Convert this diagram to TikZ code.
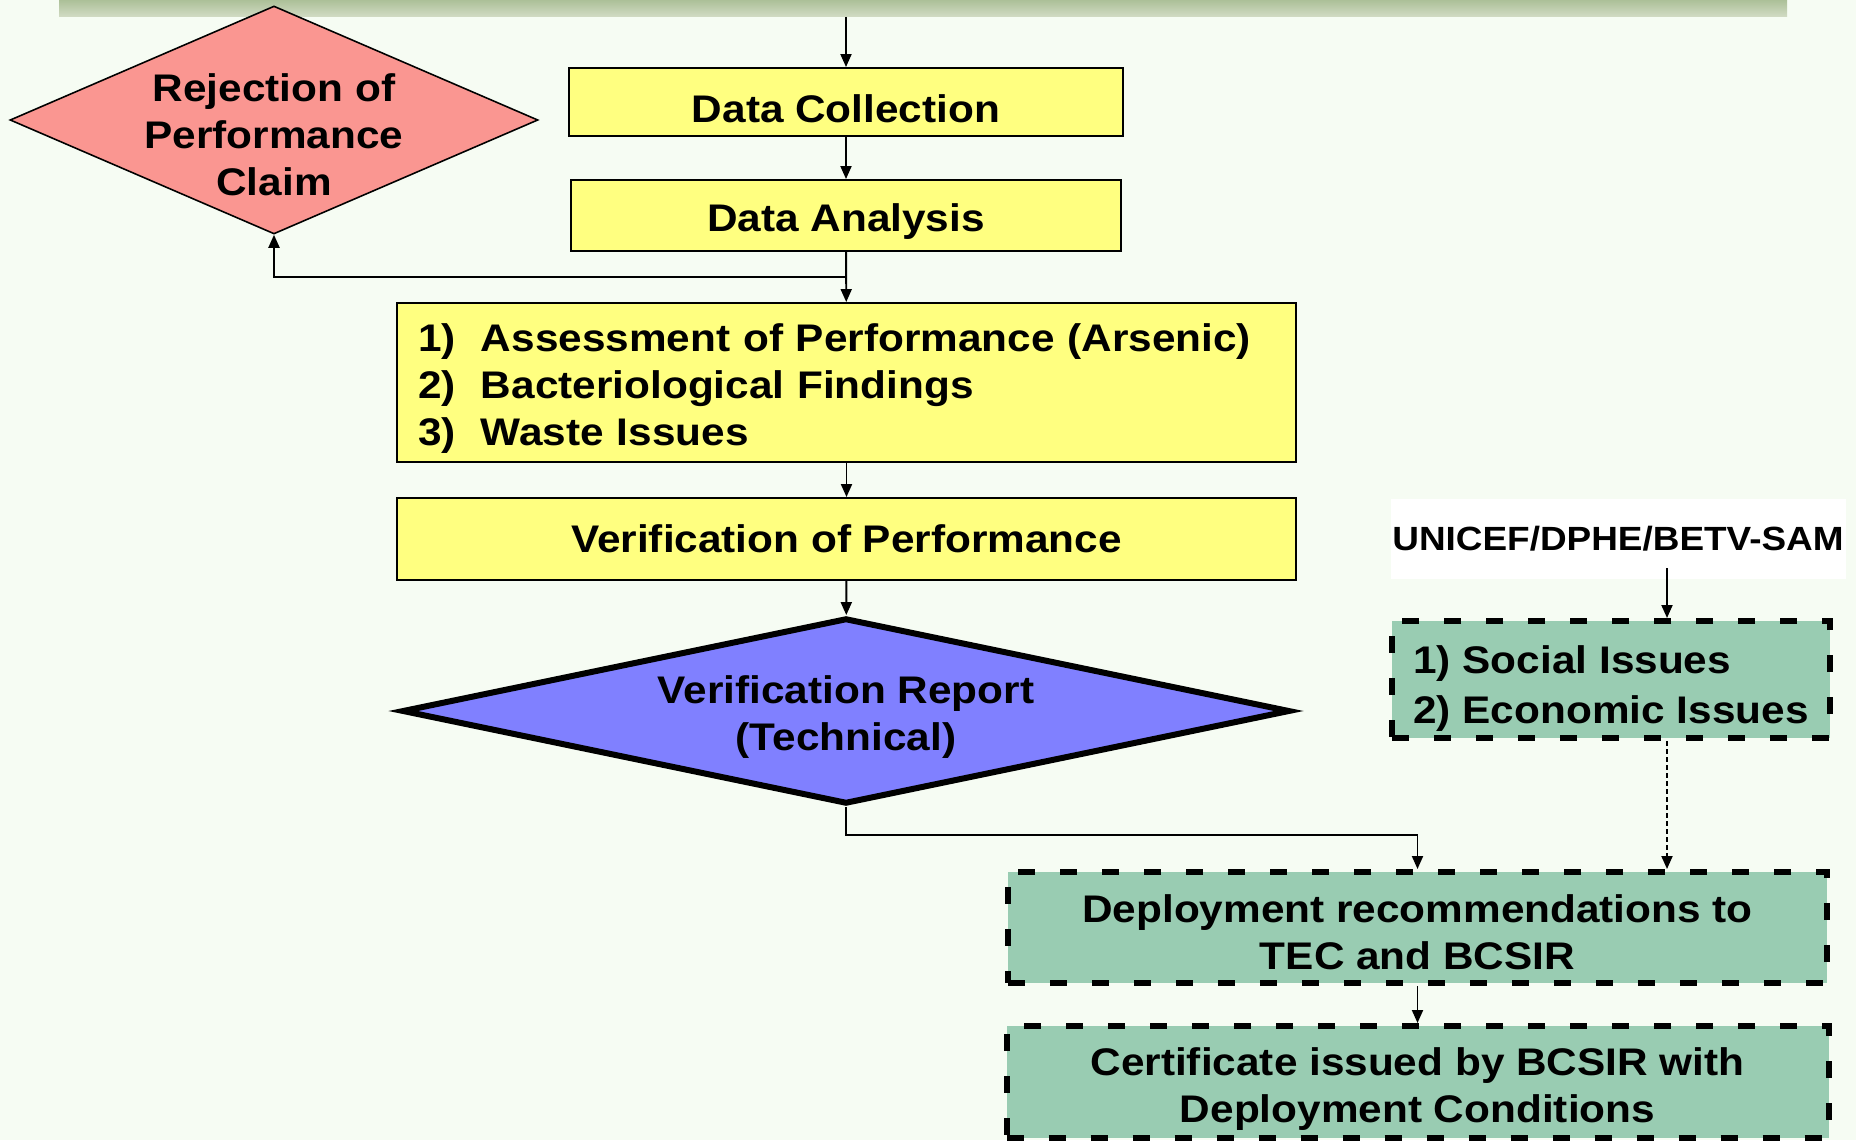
\documentclass[tikz,border=0pt]{standalone}
\usepackage{fontspec}
\setmainfont{Liberation Sans}[FakeStretch=1.1]
\usetikzlibrary{shapes.geometric,arrows.meta}

\definecolor{bgcol}{RGB}{246,252,243}
\definecolor{barhi}{RGB}{172,192,152}
\definecolor{barlo}{RGB}{208,218,194}
\definecolor{yellowbox}{RGB}{255,255,128}
\definecolor{rejectcol}{RGB}{250,150,145}
\definecolor{reportcol}{RGB}{128,128,255}
\definecolor{greenbox}{RGB}{153,204,178}

\begin{document}
\begin{tikzpicture}[>={Triangle[length=0.26cm,width=0.22cm]}, line width=1.1pt,
  txt/.style={font=\fontsize{21.9}{26.6}\selectfont\bfseries},
  yellowstep/.style={txt, draw, fill=yellowbox, rectangle, inner sep=0pt},
  greenstep/.style={txt, draw, fill=greenbox, rectangle, inner sep=0pt,
    line width=0.12cm, dash pattern=on 0.34cm off 0.5cm},
  dotline/.style={dash pattern=on 0.1cm off 0.06cm}]
\fill[bgcol] (0,0) rectangle (37.12,-22.8);
\useasboundingbox (0,0) rectangle (37.12,-22.8);
\node (v0) [top color=barhi, bottom color=barlo, minimum width=34.56cm, minimum height=0.32cm, inner sep=0pt] at (18.46,-0.16) {};
\node (v1) [yellowstep, minimum width=11.08cm, minimum height=1.36cm, text height=0.8cm, text depth=0cm] at (16.92,-2.04) {Data Collection};
\node (v2) [yellowstep, minimum width=11.0cm, minimum height=1.42cm, text height=0.8cm, text depth=0.16cm] at (16.92,-4.31) {Data Analysis};
\node (v3) [txt, diamond, draw, fill=rejectcol, line width=0.9pt, minimum width=10.56cm, minimum height=4.56cm, aspect=2.32, inner sep=-0.5cm, align=center] at (5.48,-2.40) {\rule{0pt}{1.14cm}Rejection of\\Performance\\Claim};
\node (v4) [yellowstep, minimum width=17.98cm, minimum height=3.18cm, text width=17.14cm, align=left] at (16.93,-7.65)
  {\makebox[1.26cm][l]{\rule{0pt}{0.8cm}1)}Assessment of Performance (Arsenic)\\\makebox[1.26cm][l]{2)}Bacteriological Findings\\\makebox[1.26cm][l]{3)}Waste Issues};
\node (v5) [yellowstep, minimum width=17.98cm, minimum height=1.64cm] at (16.93,-10.78) {Verification of Performance};
\node (v6) [txt, diamond, draw, fill=reportcol, line width=0.12cm, minimum width=17.76cm, minimum height=3.72cm, aspect=4.77, inner sep=0pt, align=center] at (16.92,-14.22) {\rule{0pt}{0.8cm}Verification Report\\(Technical)};
\node (v7) [font=\fontsize{19.1}{23}\selectfont\bfseries, fill=white, minimum width=9.1cm, minimum height=1.6cm, inner sep=0pt] at (32.36,-10.78) {UNICEF/DPHE/BETV-SAM};
\node (v8) [greenstep, minimum width=8.76cm, minimum height=2.34cm, align=left] at (32.22,-13.59) {\rule{0pt}{0.92cm}1) Social Issues\\[0.08cm]2) Economic Issues};
\node (v9) [greenstep, minimum width=16.38cm, minimum height=2.22cm, align=center] at (28.35,-18.55) {\rule{0pt}{0.76cm}Deployment recommendations to\\TEC and BCSIR};
\node (v10) [greenstep, minimum width=16.44cm, minimum height=2.24cm, align=center] at (28.35,-21.64) {\rule{0pt}{0.84cm}Certificate issued by BCSIR with\\Deployment Conditions};
\coordinate (c0) at (33.34,-11.36);
\draw [->] (v0.south -| v1.north) -- (v1.north);
\draw [->] (v1) edge (v2);
\draw [->] (v2) edge (v4);
\draw [->] (v2.south) ++(0,-0.5) -| (v3.south);
\draw [->] (v4) edge (v5);
\draw [->] (v5) edge (v6);
\draw [->] (v6.south) -- ++(0,-0.56) -| (v9.north);
\draw [->] (c0) -- (c0 |- v8.north);
\draw [->, dotline] (c0 |- v8.south) -- (c0 |- v9.north);
\draw [->] (v9) edge (v10);
\end{tikzpicture}
\end{document}
